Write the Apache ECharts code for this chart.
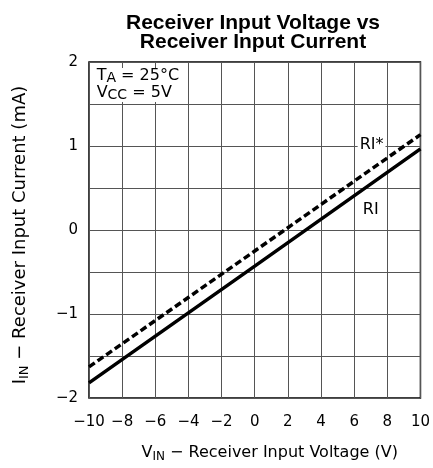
<!DOCTYPE html>
<html>
<head>
<meta charset="utf-8">
<script src="https://cdn.jsdelivr.net/npm/echarts@6/dist/echarts.min.js"></script>
<style>
html,body{margin:0;padding:0;background:#fff;}
#c{width:433px;height:468px;}
</style>
</head>
<body>
<div id="c"></div>
<script>
// ---- data ----
const xTicks = [-10, -8, -6, -4, -2, 0, 2, 4, 6, 8, 10];
const yTickLabels = {'-2':'\u22122','-1':'\u22121','0':'0','1':'1','2':'2'};
const vin = [-10, 0, 10];
const riValues = [-1.82, -0.43, 0.965];
const riStarValues = [-1.63, -0.25, 1.135];
const seriesNames = ['RI', 'RI*'];

const tickFont = 'DejaVu Sans';
const chart = echarts.init(document.getElementById('c'), null, {renderer: 'canvas'});

function fmtNum(v) {
  return v < 0 ? '\u2212' + Math.abs(v) : String(v);
}

const option = {
  animation: false,
  backgroundColor: '#fff',
  title: {
    text: 'Receiver Input Voltage vs\nReceiver Input Current',
    left: 248,
    textAlign: 'center',
    top: 9,
    textStyle: {
      fontFamily: 'Liberation Sans',
      fontWeight: 'bold',
      fontSize: 21,
      lineHeight: 19,
      color: '#000'
    }
  },
  grid: {
    left: 85, right: 9, top: 62, bottom: 69,
    show: true, borderColor: '#000', borderWidth: 1.5, containLabel: false
  },
  xAxis: {
    type: 'value', min: -10, max: 10, interval: 2,
    axisLine: {show: false}, axisTick: {show: false},
    splitLine: {show: true, lineStyle: {color: '#555', width: 1}},
    axisLabel: {
      margin: 17, color: '#000', fontFamily: tickFont, fontSize: 15,
      formatter: v => fmtNum(v)
    },
    name: '{m|V}{s|IN}{m| \u2212 Receiver Input Voltage (V)}',
    nameLocation: 'middle', nameGap: 47,
    nameTextStyle: {
      padding: [0, 0, 0, 30],
      rich: {
        m: {fontFamily: tickFont, fontSize: 16, color: '#000', lineHeight: 18, verticalAlign: 'top'},
        s: {fontFamily: tickFont, fontSize: 12, color: '#000', lineHeight: 13, padding: [9, 0, 0, 0], verticalAlign: 'bottom'}
      }
    }
  },
  yAxis: {
    type: 'value', min: -2, max: 2, interval: 0.5,
    axisLine: {show: false}, axisTick: {show: false},
    splitLine: {show: true, lineStyle: {color: '#555', width: 1}},
    axisLabel: {
      margin: 11, color: '#000', fontFamily: tickFont, fontSize: 15,
      formatter: v => (yTickLabels[String(v)] !== undefined ? yTickLabels[String(v)] : '')
    },
    name: '{m|I}{s|IN}{m| \u2212 Receiver Input Current (mA)}',
    nameLocation: 'middle', nameGap: 58, nameRotate: 90,
    nameTextStyle: {
      padding: [0, 10, 0, 0],
      rich: {
        m: {fontFamily: tickFont, fontSize: 18, color: '#000', lineHeight: 20, verticalAlign: 'top'},
        s: {fontFamily: tickFont, fontSize: 13, color: '#000', lineHeight: 14, padding: [10, 0, 0, 0], verticalAlign: 'bottom'}
      }
    }
  },
  series: [
    {
      name: seriesNames[0], type: 'line', showSymbol: false, symbol: 'none',
      data: vin.map((v, i) => [v, riValues[i]]),
      lineStyle: {color: '#000', width: 3.5, type: 'solid'},
      z: 5,
      markPoint: {
        symbol: 'circle', symbolSize: 0,
        data: [
          {coord: [7.0, 0.24], value: 'RI',
           label: {show: true, position: 'inside', formatter: 'RI', color: '#000', fontFamily: tickFont, fontSize: 16,
                    backgroundColor: '#fff', padding: [1, 2]}},
          {coord: [7.05, 1.015], value: 'RI*',
           label: {show: true, position: 'inside', formatter: 'RI*', color: '#000', fontFamily: tickFont, fontSize: 16,
                   backgroundColor: '#fff', padding: [1, 2]}},
          {coord: [-9.6, 1.93], value: 'cond',
           label: {show: true, position: [0, 0],
                   formatter: '{m|T}{s|A}{m| = 25\u00b0C}\n{m|V}{s|CC}{m| = 5V}',
                   backgroundColor: '#fff', padding: [0, 2, 0, 1],
                   rich: {
                     m: {fontFamily: tickFont, fontSize: 16, color: '#000', lineHeight: 17, verticalAlign: 'top'},
                     s: {fontFamily: tickFont, fontSize: 14, color: '#000', lineHeight: 14, padding: [10, 0, 0, 0], verticalAlign: 'bottom'}
                   }}}
        ]
      }
    },
    {
      name: seriesNames[1], type: 'line', showSymbol: false, symbol: 'none',
      data: vin.map((v, i) => [v, riStarValues[i]]),
      lineStyle: {color: '#000', width: 3.5, type: [7, 3.5]},
      z: 5
    }
  ]
};
chart.setOption(option);
</script>
</body>
</html>
